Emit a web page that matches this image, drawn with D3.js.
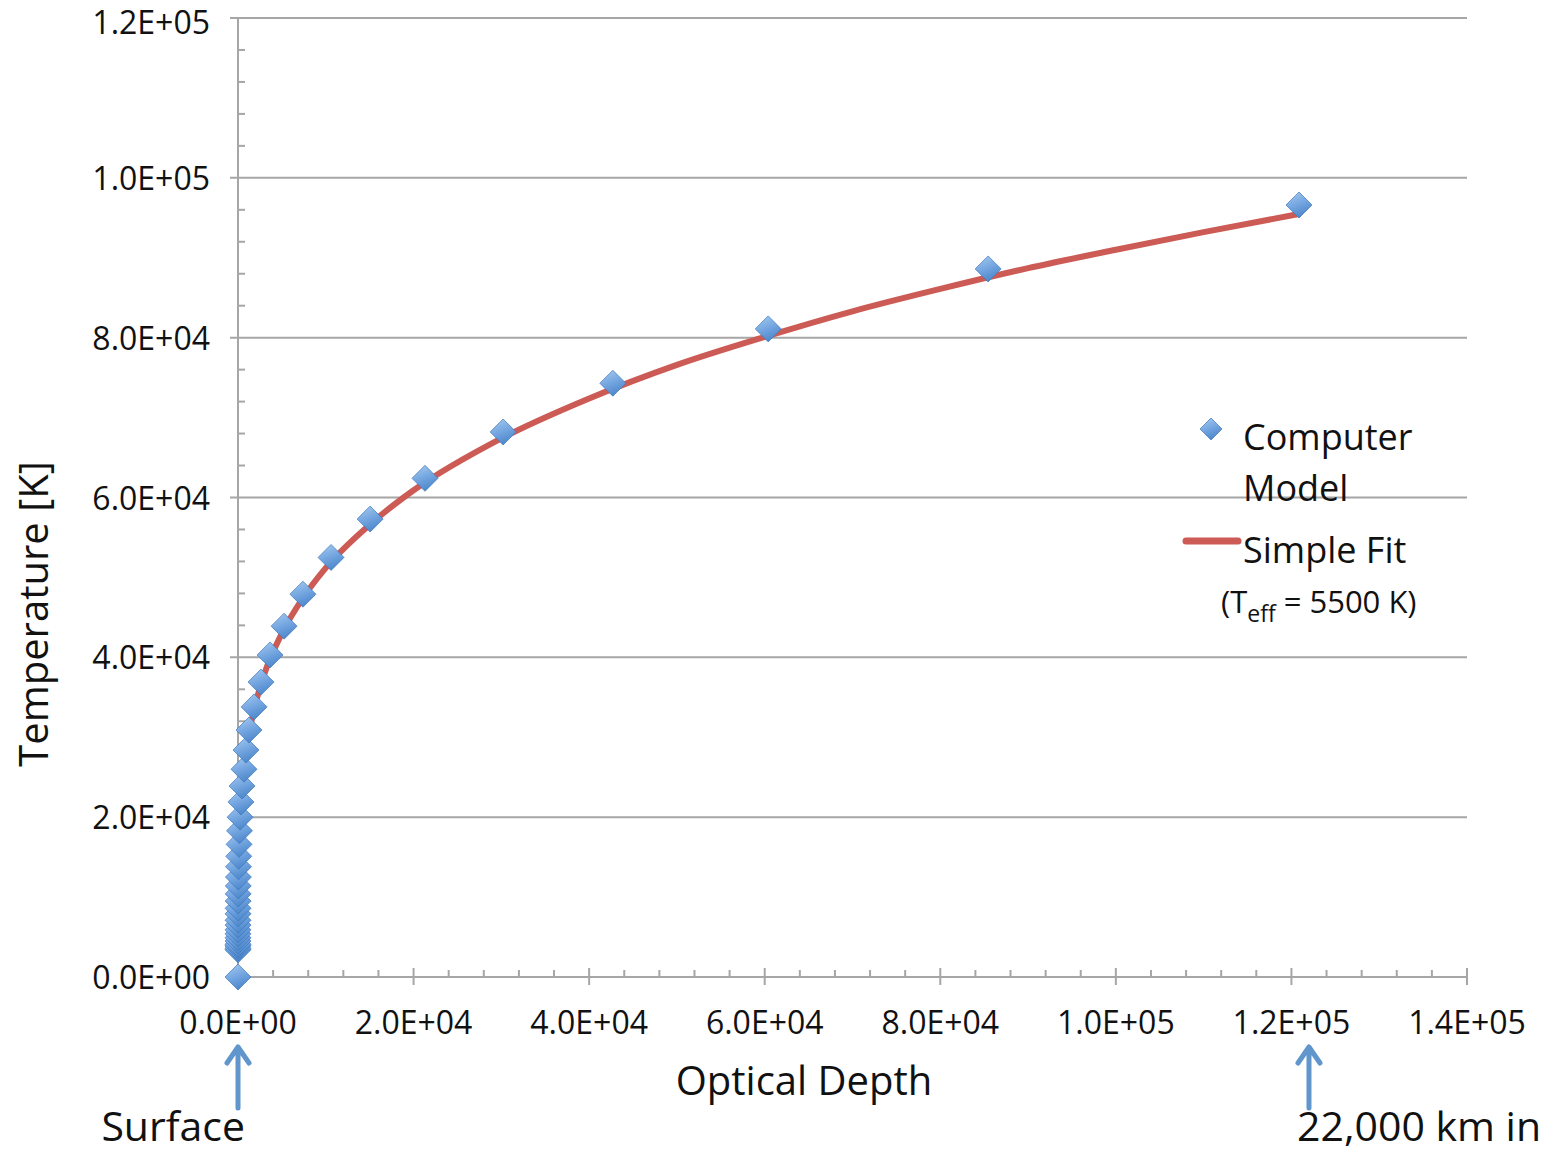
<!DOCTYPE html>
<html>
<head>
<meta charset="utf-8">
<script src="https://cdn.jsdelivr.net/npm/d3@7"></script>
<style>
  body { margin: 0; background: #fff; }
  text { font-family: "Open Sans", sans-serif; fill: #111; }
</style>
</head>
<body>
<div id="chart"></div>
<script>
// computer model points (optical depth, temperature K)
const modelTau = [120860, 85450, 60400, 42700, 30200, 21300, 15050, 10600, 7400, 5250, 3650, 2620, 1830, 1250, 910, 680, 460, 340,
  240, 170, 120, 85, 60, 43, 30, 21, 15, 11, 7.5, 5.3, 3.8, 2.7, 1.9, 1.3, 0.9, 0.7, 0.5, 0.3, 0.2, 0];
const modelTemp = [96600, 88600, 81100, 74300, 68200, 62400, 57300, 52500, 47900, 43900, 40300, 36900, 33800, 30900, 28400, 26000, 23900, 21900,
  20000, 18300, 16600, 15100, 13800, 12500, 11400, 10400, 9500, 8600, 7900, 7100, 6500, 5900, 5400, 4900, 4500, 4100, 3900, 3600, 3400, 0];

// simple fit curve
const fitTau = [0, 500, 1000, 2000, 3000, 5000, 7500, 10000, 15000, 20000, 30000, 40000, 50000, 60000, 70000, 80000, 90000, 100000, 110000, 121000];
const fitTemp = [4600, 24200, 28800, 34200, 37900, 43000, 47600, 51200, 56600, 60900, 67400, 72400, 76600, 80100, 83300, 86100, 88700, 91000, 93200, 95500];

const xTicks = [0, 20000, 40000, 60000, 80000, 100000, 120000, 140000];
const yTicks = [0, 20000, 40000, 60000, 80000, 100000, 120000];
const tickFmt = v => v.toExponential(1).replace(/e\+?(-?)(\d+)$/, (m, s, d) => "E" + (s || "+") + d.padStart(2, "0"));

// annotation arrows under the x axis
const arrowAt = [0, 122000];
const arrowText = ["Surface", "22,000 km in"];

const W = 1557, H = 1153;
const margin = { left: 238, right: 90, top: 18, bottom: 176 };

const svg = d3.select("#chart").append("svg")
  .attr("width", W).attr("height", H);

const x = d3.scaleLinear().domain([0, 140000]).range([margin.left, W - margin.right]);
const y = d3.scaleLinear().domain([0, 120000]).range([H - margin.bottom, margin.top]);

const defs = svg.append("defs");
const grad = defs.append("linearGradient").attr("id", "dia").attr("x1", 0.2).attr("y1", 0).attr("x2", 0.6).attr("y2", 1);
grad.append("stop").attr("offset", "0%").attr("stop-color", "#a3c8f0");
grad.append("stop").attr("offset", "55%").attr("stop-color", "#6fa2de");
grad.append("stop").attr("offset", "100%").attr("stop-color", "#4a84c8");

// gridlines
svg.append("g").selectAll("line")
  .data(yTicks.filter(d => d > 0))
  .join("line")
  .attr("x1", x(0) - 8).attr("x2", x(140000))
  .attr("y1", d => y(d)).attr("y2", d => y(d))
  .attr("stroke", "#a6a6a6").attr("stroke-width", 2);

// y axis
const yAxis = svg.append("g");
yAxis.append("line")
  .attr("x1", x(0)).attr("x2", x(0)).attr("y1", y(0)).attr("y2", y(120000))
  .attr("stroke", "#a6a6a6").attr("stroke-width", 2);
yAxis.selectAll(".minor")
  .data(d3.range(0, 120000, 4000).filter(d => d % 20000 !== 0))
  .join("line")
  .attr("x1", x(0)).attr("x2", x(0) + 7)
  .attr("y1", d => y(d)).attr("y2", d => y(d))
  .attr("stroke", "#a6a6a6").attr("stroke-width", 2);
yAxis.selectAll("text")
  .data(yTicks)
  .join("text")
  .attr("x", 210).attr("y", d => Math.max(y(d) + 12, 34))
  .attr("text-anchor", "end")
  .attr("font-size", 32)
  .text(tickFmt);

// x axis
const xAxis = svg.append("g");
xAxis.append("line")
  .attr("x1", x(0) - 8).attr("x2", x(140000)).attr("y1", y(0)).attr("y2", y(0))
  .attr("stroke", "#a6a6a6").attr("stroke-width", 2);
xAxis.selectAll(".minor")
  .data(d3.range(0, 140000, 4000).filter(d => d % 20000 !== 0))
  .join("line")
  .attr("x1", d => x(d)).attr("x2", d => x(d))
  .attr("y1", y(0)).attr("y2", y(0) - 7)
  .attr("stroke", "#a6a6a6").attr("stroke-width", 2);
xAxis.selectAll(".major")
  .data(xTicks.filter(d => d > 0))
  .join("line")
  .attr("x1", d => x(d)).attr("x2", d => x(d))
  .attr("y1", y(0) - 9).attr("y2", y(0) + 8)
  .attr("stroke", "#a6a6a6").attr("stroke-width", 2);
xAxis.selectAll("text")
  .data(xTicks)
  .join("text")
  .attr("x", d => x(d)).attr("y", 1034)
  .attr("text-anchor", "middle")
  .attr("font-size", 32)
  .text(tickFmt);

// fit line
const line = d3.line().x((d, i) => x(fitTau[i])).y(d => y(d)).curve(d3.curveMonotoneX);
svg.append("path")
  .attr("d", line(fitTemp))
  .attr("fill", "none")
  .attr("stroke", "#cd5b55")
  .attr("stroke-width", 6);

// model diamonds
const diamond = "M0,-13L13,0L0,13L-13,0Z";
svg.append("g").selectAll("path")
  .data(modelTemp.map((t, i) => [modelTau[i], t]).reverse())
  .join("path")
  .attr("d", diamond)
  .attr("transform", d => `translate(${x(d[0])},${y(d[1])})`)
  .attr("fill", "url(#dia)")
  .attr("stroke", "#3d78bd")
  .attr("stroke-opacity", 0.7)
  .attr("stroke-width", 1);

// axis titles
svg.append("text")
  .attr("x", 804).attr("y", 1095)
  .attr("text-anchor", "middle")
  .attr("font-size", 40)
  .text("Optical Depth");
svg.append("text")
  .attr("transform", "translate(48,614) rotate(-90)")
  .attr("text-anchor", "middle")
  .attr("font-size", 40)
  .text("Temperature [K]");

// legend
const lg = svg.append("g");
lg.append("path")
  .attr("d", "M0,-11L11,0L0,11L-11,0Z")
  .attr("transform", "translate(1211,429)")
  .attr("fill", "url(#dia)")
  .attr("stroke", "#3d78bd").attr("stroke-opacity", 0.7);
lg.append("text").attr("x", 1243).attr("y", 450).attr("font-size", 36).text("Computer");
lg.append("text").attr("x", 1243).attr("y", 501).attr("font-size", 36).text("Model");
lg.append("line")
  .attr("x1", 1186).attr("x2", 1238).attr("y1", 541).attr("y2", 541)
  .attr("stroke", "#cd5b55").attr("stroke-width", 7).attr("stroke-linecap", "round");
lg.append("text").attr("x", 1243).attr("y", 563).attr("font-size", 36).text("Simple Fit");
const teff = lg.append("text").attr("x", 1221).attr("y", 613).attr("font-size", 31);
teff.append("tspan").text("(T");
teff.append("tspan").attr("font-size", 23).attr("dy", 9).text("eff");
teff.append("tspan").attr("dy", -9).text(" = 5500 K)");

// arrows
arrowAt.forEach((v, i) => {
  const ax = x(v);
  svg.append("path")
    .attr("d", `M${ax},1108L${ax},1047M${ax - 11},1063L${ax},1047L${ax + 11},1063`)
    .attr("fill", "none")
    .attr("stroke", "#6096cc")
    .attr("stroke-width", 5)
    .attr("stroke-linecap", "round")
    .attr("stroke-linejoin", "round");
  svg.append("text")
    .attr("x", i === 0 ? 245 : 1297).attr("y", 1141)
    .attr("text-anchor", i === 0 ? "end" : "start")
    .attr("font-size", 41)
    .text(arrowText[i]);
});
</script>
</body>
</html>
